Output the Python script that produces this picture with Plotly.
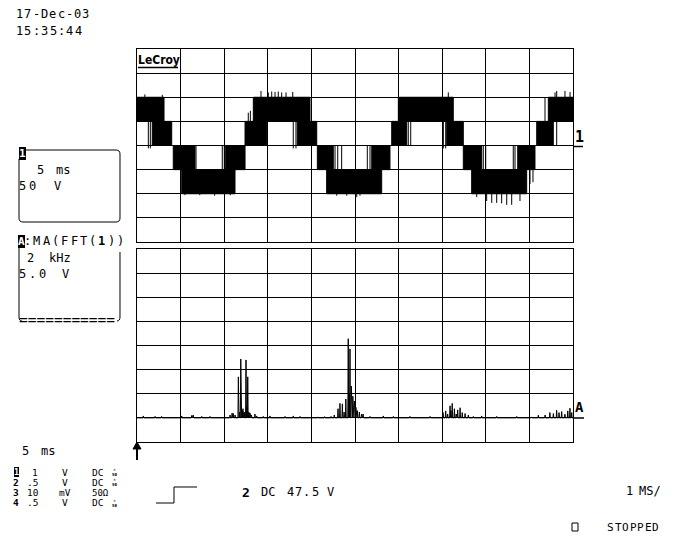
import plotly.graph_objects as go

W, H = 690, 537
MONO = "DejaVu Sans Mono"

# ---------------- Channel 1 (5 ms/div, 50 V/div) ----------------
# PWM switching bands: solid black areas
band_start_ms = [0.00, 1.75, 4.16, 5.13, 10.17, 12.39, 13.34, 18.38, 20.68, 21.75,
                 26.92, 29.21, 29.97, 35.52, 37.42, 38.38, 43.66, 45.84, 47.17]
band_end_ms = [3.10, 3.98, 6.65, 11.24, 12.39, 14.87, 19.84, 20.61, 22.51, 28.06,
               29.01, 30.93, 36.27, 37.42, 39.53, 44.69, 45.64, 47.74, 50.00]
band_low_v = [50, 0, -50, -100, -50, 0, 50, 0, -50, -100,
              -50, 0, 50, 0, -50, -100, -50, 0, 50]
band_high_v = [100, 50, 0, -50, 0, 50, 100, 50, 0, -50,
               0, 50, 100, 50, 0, -50, 0, 50, 100]

# isolated switching edges and overshoot spikes: time, from V, to V
spike_ms = [1.30, 1.53, 6.77, 9.78, 10.01, 12.76, 13.00, 17.92, 18.23, 22.71,
            23.02, 23.47, 26.41, 26.72, 31.11, 31.39, 35.13, 35.40, 39.71, 39.99,
            43.15, 43.35, 48.13, 45.07, 45.41, 46.79,
            0.90, 2.90, 14.22, 15.06, 15.45, 15.83, 16.20, 16.59, 17.09, 17.86,
            35.70, 47.94, 49.08, 49.66,
            5.50, 7.20, 8.90, 10.70, 22.90, 24.05, 25.20, 25.57,
            38.96, 40.10, 40.68, 41.25, 41.82, 42.40, 42.97, 43.92]
spike_from_v = [-6, -6, -50, -50, -50, 50, 50, -6, -6, -50,
                -50, -50, -50, -50, 0, 0, -6, -6, -50, -50,
                -50, -50, 0, -80, -76, 50,
                100, 100, 100, 100, 100, 100, 100, 100, 100, 100,
                100, 100, 100, 100,
                -100, -100, -100, -100, -100, -100, -100, -100,
                -100, -100, -100, -100, -100, -100, -100, -100]
spike_to_v = [50, 50, 0, 0, 0, 68, 72, 50, 50, 0,
              0, 0, 0, 0, 50, 50, 50, 50, 0, 0,
              0, 0, 113, -49, -49, 100,
              106, 105, 113, 110, 112, 111, 112, 110, 110, 111,
              110, 110, 113, 111,
              -103, -103, -104, -103, -104, -104, -107, -104,
              -107, -115, -119, -119, -120, -123, -123, -115]

# ---------------- Trace A = MA(FFT(1)) (2 kHz/div, 5 V/div) ----------------
fft_peak_khz = [0.29, 0.83, 1.13, 2.05, 2.51, 2.58, 2.97, 3.35, 4.27, 4.36, 4.42, 4.50,
                4.65, 4.70, 4.76, 4.82, 4.86, 4.92, 5.00, 5.04, 5.08, 5.13, 5.18, 5.25, 5.41, 5.49,
                5.79, 6.10, 6.79, 7.17, 7.48, 8.30, 8.60, 8.90,
                9.05, 9.22, 9.31, 9.42, 9.50, 9.58, 9.69, 9.73, 9.77, 9.83, 9.90, 9.97,
                10.04, 10.11, 10.20, 10.30, 10.37,
                10.69, 11.30, 11.76, 12.52, 13.44,
                14.04, 14.16, 14.25, 14.36, 14.40, 14.46, 14.56, 14.64, 14.71, 14.82, 14.92, 15.05, 15.20,
                15.43, 15.81, 16.50, 17.42, 18.10,
                18.41, 18.72, 18.94, 19.10, 19.25, 19.36, 19.48, 19.63, 19.76, 19.86, 19.94]
fft_peak_v = [0.4, 0.3, 0.3, 0.4, 0.5, 0.6, 0.3, 0.3, 0.6, 1.0, 0.9, 0.6,
              8.5, 1.2, 12.2, 1.5, 1.9, 1.2, 12.0, 2.2, 8.5, 1.2, 1.0, 0.6, 0.8, 0.4,
              0.3, 0.4, 0.3, 0.4, 0.3, 0.2, 0.25, 0.3,
              0.6, 1.9, 3.0, 2.9, 1.2, 3.9, 16.4, 5.0, 14.3, 6.6, 4.5, 3.5,
              2.2, 1.5, 1.2, 0.8, 0.8,
              0.3, 0.4, 0.3, 0.3, 0.3,
              1.1, 1.45, 0.8, 2.5, 1.5, 3.0, 1.9, 0.8, 1.66, 2.1, 1.1, 0.9, 0.6,
              0.3, 0.4, 0.3, 0.3, 0.2,
              0.56, 0.6, 1.1, 0.9, 1.6, 1.1, 1.3, 0.77, 1.45, 2.0, 1.1]


def PX(x):
    return x / W


def PY(y):
    return 1 - y / H


fig = go.Figure()

bx, by = [], []
for s, e, lo, hi in zip(band_start_ms, band_end_ms, band_low_v, band_high_v):
    bx += [s, e, e, s, s, None]
    by += [lo, lo, hi, hi, lo, None]
fig.add_trace(go.Scatter(x=bx, y=by, mode="lines", fill="toself", fillcolor="black",
                         line=dict(color="black", width=1), xaxis="x", yaxis="y",
                         hoverinfo="skip", showlegend=False))

sx, sy = [], []
for t, a, b in zip(spike_ms, spike_from_v, spike_to_v):
    sx += [t, t, None]
    sy += [a, b, None]
fig.add_trace(go.Scatter(x=sx, y=sy, mode="lines", line=dict(color="black", width=1),
                         xaxis="x", yaxis="y", hoverinfo="skip", showlegend=False))

fx, fy = [0.0], [0.0]
for f, v in sorted(zip(fft_peak_khz, fft_peak_v)):
    fx += [f - 0.02, f, f + 0.02]
    fy += [0, v, 0]
fx.append(20.0)
fy.append(0.0)
fig.add_trace(go.Scatter(x=fx, y=fy, mode="lines", line=dict(color="black", width=1),
                         xaxis="x2", yaxis="y2", hoverinfo="skip", showlegend=False))

ax = dict(showgrid=True, gridcolor="black", gridwidth=1, showline=True, linecolor="black",
          linewidth=1, mirror=True, ticks="", showticklabels=False, zeroline=False,
          fixedrange=True, tick0=0)

fig.update_layout(
    width=W, height=H, margin=dict(l=0, r=0, t=0, b=0),
    paper_bgcolor="white", plot_bgcolor="white", showlegend=False,
    xaxis=dict(domain=[PX(137), PX(573)], range=[0, 50], dtick=5, anchor="y", **ax),
    yaxis=dict(domain=[PY(242), PY(49)], range=[-200, 200], dtick=50, anchor="x", **ax),
    xaxis2=dict(domain=[PX(137), PX(573)], range=[0, 20], dtick=2, anchor="y2", **ax),
    yaxis2=dict(domain=[PY(442), PY(249)], range=[-5, 35], dtick=5, anchor="x2", **ax),
)

anns = []


def txt(s, x, y, size=12, bold=False, color="black", bg=None):
    a = dict(text=(f"<b>{s}</b>" if bold else s), x=PX(x), y=PY(y), xref="paper", yref="paper",
             xanchor="left", yanchor="middle", showarrow=False, borderpad=0, borderwidth=0,
             font=dict(family=MONO, size=size, color=color))
    if bg:
        a["bgcolor"] = bg
    anns.append(a)


def spaced(s, x, y, pitch, size=12, bold_idx=()):
    # the scope font is wide: place each glyph on its own pitch
    for i, ch in enumerate(s):
        if ch != " ":
            txt(ch, x + i * pitch, y, size, bold=(i in bold_idx))


def x50(x, y):
    txt("×<br><b>50</b>", x, y, size=4.2)


# header
spaced("17-Dec-03", 16, 14, 8.3, 12)
spaced("15:35:44", 16, 31, 8.4, 12)
# LeCroy logo
anns.append(dict(text="<b>LeCroy</b>", x=PX(138), y=PY(60), xref="paper", yref="paper",
                 xanchor="left", yanchor="middle", showarrow=False, borderpad=0, borderwidth=0,
                 font=dict(family="DejaVu Sans Condensed, DejaVu Sans", size=12, color="black")))
# box 1
txt("1", 19, 153, 11, bold=True, color="white", bg="black")
txt("5", 37, 170)
txt("ms", 56, 170)
spaced("50", 19, 186, 10)
txt("V", 54, 186)
# box A
txt("A", 18, 241, 11, bold=True, color="white", bg="black")
spaced(":MA(FFT(1))", 24, 241, 9.3, 12, bold_idx=(8,))
txt("2", 27, 258)
txt("kHz", 49, 258)
spaced("5.0", 19, 274, 10)
txt("V", 62, 274)
txt("===========", 19, 320, 14.5)
# right markers
txt("1", 575, 137, 15, bold=True)
txt("A", 575, 407, 14, bold=True)
# bottom left
txt("5", 22, 451)
txt("ms", 41, 451)
rows_y = [472, 482, 492.5, 502.5]
RS = 9.5
BS = 9.5
txt("1", 14, rows_y[0], 8.5, bold=True, color="white", bg="black")
txt("1", 32, rows_y[0], RS)
txt("V", 62, rows_y[0], RS)
txt("DC", 92, rows_y[0], RS)
x50(112, rows_y[0])
txt("2", 13, rows_y[1], BS, bold=True)
txt(".5", 27, rows_y[1], RS)
txt("V", 62, rows_y[1], RS)
txt("DC", 92, rows_y[1], RS)
x50(112, rows_y[1])
txt("3", 13, rows_y[2], BS, bold=True)
txt("10", 27, rows_y[2], RS)
txt("mV", 59, rows_y[2], RS)
txt("50Ω", 92, rows_y[2], 9)
txt("4", 13, rows_y[3], BS, bold=True)
txt(".5", 27, rows_y[3], RS)
txt("V", 62, rows_y[3], RS)
txt("DC", 92, rows_y[3], RS)
x50(112, rows_y[3])
# trigger
txt("2", 242, 492, 13, bold=True)
txt("DC", 261, 492)
spaced("47.5", 287, 492, 8.2)
txt("V", 327, 492)
# right bottom
txt("1", 626, 491)
txt("MS/", 639, 491)
spaced("STOPPED", 607, 527, 7.5, 11)

fig.update_layout(annotations=anns)


def path(pts):
    out = ""
    for p in pts:
        if p[0] in ("M", "L"):
            out += f"{p[0]}{PX(p[1]):.5f},{PY(p[2]):.5f} "
        elif p[0] == "Q":
            out += f"Q{PX(p[1]):.5f},{PY(p[2]):.5f} {PX(p[3]):.5f},{PY(p[4]):.5f} "
        elif p[0] == "Z":
            out += "Z"
    return out


shapes = []


def sh_path(pts, fill=None, width=1):
    d = dict(type="path", xref="paper", yref="paper", path=path(pts),
             line=dict(color="black", width=width))
    if fill:
        d["fillcolor"] = fill
    shapes.append(d)


def sh_line(x0, y0, x1, y1, width=1):
    shapes.append(dict(type="line", xref="paper", yref="paper", x0=PX(x0), y0=PY(y0),
                       x1=PX(x1), y1=PY(y1), line=dict(color="black", width=width)))


# box 1 outline
sh_path([("M", 25, 150), ("L", 116, 150), ("Q", 120, 150, 120, 154), ("L", 120, 218),
         ("Q", 120, 222, 116, 222), ("L", 23, 222), ("Q", 19, 222, 19, 218), ("L", 19, 159)])
# box A outline
sh_path([("M", 22, 236), ("Q", 19, 237, 19, 241), ("L", 19, 317), ("Q", 19, 321, 22, 321)])
sh_path([("M", 120, 252), ("L", 120, 317), ("Q", 120, 321, 117, 321)])
# LeCroy underline
sh_line(138, 67.5, 178, 67.5, 1.5)
# channel markers
sh_line(573, 146.5, 583, 146.5, 1.5)
sh_line(573, 418, 584, 418, 1.5)
# trigger arrow
sh_line(137, 447, 137, 460, 2)
sh_path([("M", 133, 449), ("L", 137, 442), ("L", 141, 449), ("Z",)], fill="black")
# trigger step symbol
sh_path([("M", 156, 503), ("L", 174, 503), ("L", 174, 487), ("L", 197, 487)])
# stopped box
shapes.append(dict(type="rect", xref="paper", yref="paper", x0=PX(572), x1=PX(578),
                   y0=PY(531), y1=PY(523), line=dict(color="black", width=1)))

fig.update_layout(shapes=shapes)

fig.write_html("out.html", config={"displayModeBar": False},
               post_script="document.body.style.margin='0';document.body.style.overflow='hidden';")
